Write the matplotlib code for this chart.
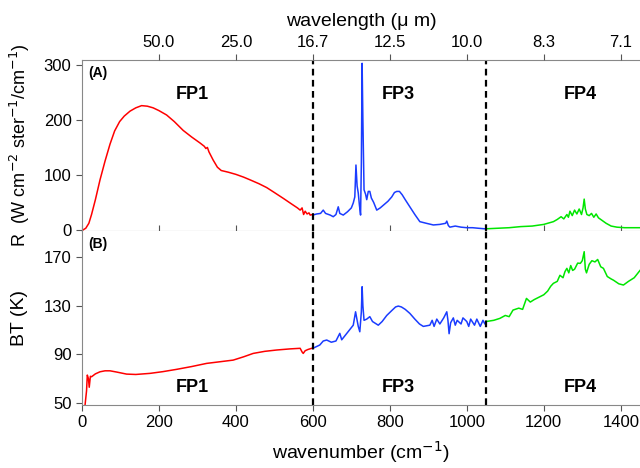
import matplotlib
matplotlib.use('Agg')
import matplotlib.pyplot as plt
import numpy as np

plt.rcParams['font.family'] = ['Liberation Sans', 'DejaVu Sans']

# ---- radiance, panel (A) ----
r_fp1_wn = [3, 10, 18, 25, 35, 47, 60, 73, 85, 98, 110, 125, 140, 155, 170, 185, 200, 220, 240, 263,
            285, 307, 318, 322, 326, 330, 341, 352, 362, 380, 400, 420, 437, 460, 480, 500, 524, 545,
            560, 567, 572, 576, 580, 585, 590, 593, 600]
r_fp1 = [0, 3, 12, 28, 55, 91, 125, 156, 180, 197, 207, 216, 222, 226, 225, 222, 217, 209, 197, 181,
         169, 158, 152, 148, 150, 142, 127, 114, 108, 105, 101, 96, 91, 84, 77, 68, 57, 47,
         40, 36, 40, 28, 34, 29, 31, 27, 28]

r_fp3_wn = [600, 610, 620, 627, 633, 645, 653, 660, 666, 670, 679, 690, 700, 705, 709, 712, 715, 718,
            721, 724, 726, 728, 730, 733, 737, 740, 744, 748, 752, 758, 766, 775, 785, 795, 805, 812,
            818, 825, 832, 840, 852, 865, 878, 895, 913, 930, 945, 948, 952, 956, 970, 985, 1000, 1015,
            1030, 1047, 1050]
r_fp3 = [27, 29, 30, 36, 30, 27, 24, 28, 42, 30, 27, 33, 40, 49, 60, 118, 80, 67,
         45, 27, 120, 303, 200, 73, 65, 55, 70, 70, 58, 50, 36, 40, 46, 52, 60, 68,
         70, 70, 64, 55, 42, 28, 15, 12, 9, 10, 12, 16, 8, 5, 7, 5, 4, 4,
         3, 2, 2]

r_fp4_wn = [1050, 1080, 1110, 1140, 1170, 1200, 1225, 1235, 1245, 1252, 1260, 1264, 1268, 1274, 1280,
            1286, 1292, 1298, 1302, 1305, 1308, 1312, 1318, 1324, 1330, 1336, 1342, 1350, 1362, 1375,
            1390, 1410, 1430, 1450]
r_fp4 = [2, 3, 4, 6, 7, 10, 15, 19, 24, 20, 28, 23, 34, 26, 36,
         29, 38, 28, 40, 56, 38, 28, 26, 30, 23, 29, 22, 18, 12, 7,
         5, 4, 4, 4]

# ---- brightness temperature, panel (B) ----
bt_fp1_wn = [8, 12, 14, 17, 19, 22, 25, 35, 47, 60, 73, 90, 116, 140, 177, 210, 246, 285, 324, 360,
             393, 420, 445, 475, 506, 540, 567, 572, 575, 580, 587, 597, 600]
bt_fp1 = [48, 60, 73, 70, 63, 72, 71.6, 74, 75.7, 76.5, 76.5, 75.5, 73.8, 73.5, 74.4, 75.8, 77.7, 80,
          82.6, 84, 85.3, 88, 90.8, 92.5, 93.6, 94.5, 95, 92, 90.8, 93, 94, 95, 95]

bt_fp3_wn = [600, 610, 618, 627, 636, 648, 660, 670, 675, 690, 700, 705, 711, 715, 718, 722, 726, 728,
             730, 733, 740, 748, 755, 770, 780, 792, 805, 815, 822, 830, 840, 852, 865, 877, 887, 904,
             910, 915, 922, 930, 940, 948, 951, 954, 958, 965, 970, 975, 985, 990, 1000, 1005, 1010,
             1020, 1026, 1035, 1042, 1047, 1050]
bt_fp3 = [95, 96.5, 97.7, 101, 101.8, 100, 101, 107.3, 102, 108, 112, 114, 125, 118, 113, 108.6, 125, 145.6,
          130, 118, 119, 121, 117, 114, 117, 122, 126, 129, 129.7, 129, 127, 123.7, 119, 115, 113, 114,
          118, 113, 119, 115, 120, 125, 118, 107, 116, 120, 114, 118, 115, 120, 117, 113, 119,
          114, 119, 113, 118, 115, 117]

bt_fp4_wn = [1050, 1070, 1086, 1100, 1110, 1120, 1135, 1145, 1155, 1165, 1175, 1190, 1200, 1210, 1218,
             1225, 1235, 1242, 1250, 1255, 1260, 1265, 1270, 1275, 1280, 1288, 1295, 1300, 1305, 1308,
             1311, 1318, 1325, 1333, 1340, 1348, 1355, 1365, 1375, 1381, 1395, 1407, 1420, 1435, 1450]
bt_fp4 = [117, 118, 119.6, 122, 121, 126.4, 128, 127, 136, 133, 135, 137.4, 139, 142, 146,
          148.4, 150, 155, 153, 158, 160.7, 157, 163, 159, 160, 165, 164.8, 167, 174.4, 160,
          157, 164, 167, 166, 168, 162, 160.7, 154, 152, 151, 148, 147, 150, 153, 159]

wl_ticks = [200, 400, 600, 800, 1000, 1200, 1400]
fp_labels = ['FP1', 'FP3', 'FP4']
fp_centers = [287, 822, 1294]
fp_edges = [600, 1050]

red, blue, green = '#ff0000', '#1a3cff', '#00e600'

fig = plt.figure(figsize=(6.4, 4.68), dpi=100)
axA = fig.add_axes([0.128, 0.5064, 0.872, 0.3654])
axB = fig.add_axes([0.128, 0.1346, 0.872, 0.3718], sharex=axA)

for ax, data in ((axA, [(r_fp1_wn, r_fp1, red), (r_fp3_wn, r_fp3, blue), (r_fp4_wn, r_fp4, green)]),
                 (axB, [(bt_fp1_wn, bt_fp1, red), (bt_fp3_wn, bt_fp3, blue), (bt_fp4_wn, bt_fp4, green)])):
    for x, y, c in data:
        ax.plot(x, y, color=c, lw=1.1)
    for e in fp_edges:
        ax.axvline(e, color='black', ls=(0, (3, 2)), lw=1.6)
    ax.spines['right'].set_visible(False)
    for s in ax.spines.values():
        s.set_color('#888888')
    ax.tick_params(labelsize=12, length=4, color='#555555')

axA.set_xlim(0, 1450)
axA.set_ylim(-2, 309)
axA.set_yticks([0, 100, 200, 300])
axA.tick_params(axis='x', direction='in', labelbottom=False)

axB.set_ylim(48.4, 191.4)
axB.set_yticks([50, 90, 130, 170])
axB.set_xticks([0, 200, 400, 600, 800, 1000, 1200, 1400])
axB.spines['top'].set_visible(False)

# top axis in wavelength (micron)
axT = axA.twiny()
axT.set_xlim(axA.get_xlim())
axT.set_xticks(wl_ticks)
axT.set_xticklabels(['%.1f' % (10000.0 / w) for w in wl_ticks])
axT.tick_params(labelsize=12, length=4, color='#555555')
for s in axT.spines.values():
    s.set_visible(False)
axT.set_xlabel('wavelength (\u03bc m)', fontsize=14, labelpad=6)

axB.set_xlabel(r'wavenumber (cm$^{-1}$)', fontsize=14, labelpad=6)
fig.text(20 / 640, 1 - 145.5 / 468, r'R  (W cm$^{-2}$ ster$^{-1}$/cm$^{-1}$)', rotation=90,
         ha='center', va='center', fontsize=13)
fig.text(20 / 640, 1 - 318 / 468, 'BT (K)', rotation=90, ha='center', va='center', fontsize=14)

axA.text(0.012, 0.965, '(A)', transform=axA.transAxes, fontsize=10, fontweight='bold', va='top')
axB.text(0.012, 0.965, '(B)', transform=axB.transAxes, fontsize=10, fontweight='bold', va='top')
for lab, xc in zip(fp_labels, fp_centers):
    axA.text(xc, 246, lab, fontsize=13, fontweight='bold', ha='center', va='center')
    axB.text(xc, 62.7, lab, fontsize=13, fontweight='bold', ha='center', va='center')

fig.savefig('out.png', dpi=100)
